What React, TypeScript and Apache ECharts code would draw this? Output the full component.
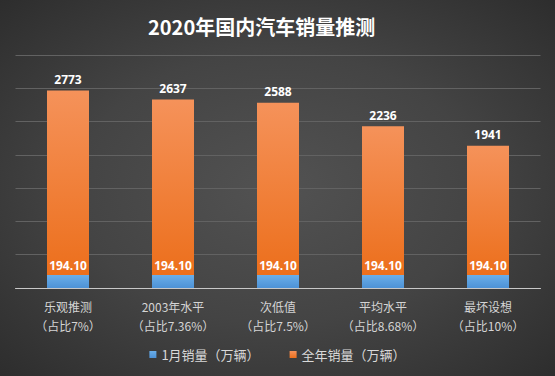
import React, { useEffect, useRef } from "react";
import * as echarts from "echarts";

const scenarios = ["乐观推测", "2003年水平", "次低值", "平均水平", "最坏设想"];
const shares = ["（占比7%）", "（占比7.36%）", "（占比7.5%）", "（占比8.68%）", "（占比10%）"];
const januarySales = [194.1, 194.1, 194.1, 194.1, 194.1];
const annualSales = [2773, 2637, 2588, 2236, 1941];
const titleText = "2020年国内汽车销量推测";
const seriesNames = ["1月销量（万辆）", "全年销量（万辆）"];

const CJK = "'Noto Sans CJK SC', 'Microsoft YaHei', sans-serif";

export default function App() {
  const ref = useRef<HTMLDivElement>(null);
  useEffect(() => {
    if (!ref.current) return;
    const chart = echarts.init(ref.current, null, { renderer: "svg" });
    const categories = scenarios.map((s, i) => s + "\n" + shares[i]);
    chart.setOption({
      animation: false,
      backgroundColor: new echarts.graphic.RadialGradient(0.5, 0.5, 0.8, [
        { offset: 0, color: "#525252" },
        { offset: 0.45, color: "#444444" },
        { offset: 1, color: "#272727" },
      ]),
      title: {
        text: titleText,
        left: 143,
        top: 11,
        textStyle: { color: "#ffffff", fontSize: 20, fontWeight: "bold", fontFamily: CJK },
      },
      legend: {
        bottom: 10,
        left: "center",
        itemWidth: 7,
        itemHeight: 7,
        itemGap: 30,
        icon: "rect",
        textStyle: { color: "#d9d9d9", fontSize: 13, fontFamily: CJK },
        data: seriesNames,
      },
      grid: { left: 15.5, right: 14.5, top: 55, bottom: 88, containLabel: false },
      xAxis: {
        type: "category",
        data: categories,
        axisLine: { show: true, lineStyle: { color: "#c8c8c8", width: 1 } },
        axisTick: { show: false },
        axisLabel: {
          color: "#d4d4d4",
          fontSize: 12,
          lineHeight: 19,
          margin: 9,
          fontFamily: CJK,
          interval: 0,
        },
      },
      yAxis: {
        type: "value",
        min: 0,
        max: 3500,
        interval: 500,
        axisLabel: { show: false },
        axisLine: { show: false },
        axisTick: { show: false },
        splitLine: { lineStyle: { color: "#626262", width: 1 } },
      },
      series: [
        {
          name: seriesNames[0],
          type: "bar",
          stack: "total",
          barWidth: 42,
          data: januarySales,
          itemStyle: {
            color: new echarts.graphic.LinearGradient(0, 0, 0, 1, [
              { offset: 0, color: "#6aaee9" },
              { offset: 1, color: "#4d92d6" },
            ]),
          },
          label: {
            show: true,
            position: "top",
            distance: 4,
            color: "#ffffff",
            fontSize: 12,
            fontWeight: "bold",
            fontFamily: "'Open Sans', sans-serif",
            formatter: (p: any) => Number(p.value).toFixed(2),
          },
        },
        {
          name: seriesNames[1],
          type: "bar",
          stack: "total",
          barWidth: 42,
          data: annualSales,
          itemStyle: {
            color: new echarts.graphic.LinearGradient(0, 0, 0, 1, [
              { offset: 0, color: "#f5925a" },
              { offset: 1, color: "#ec6f1c" },
            ]),
          },
          label: {
            show: true,
            position: "top",
            distance: 5,
            color: "#ffffff",
            fontSize: 12,
            fontWeight: "bold",
            fontFamily: "'Open Sans', sans-serif",
          },
        },
      ],
    });
    return () => chart.dispose();
  }, []);
  return <div ref={ref} style={{ width: 555, height: 376, position: "absolute", left: 0, top: 0 }} />;
}
